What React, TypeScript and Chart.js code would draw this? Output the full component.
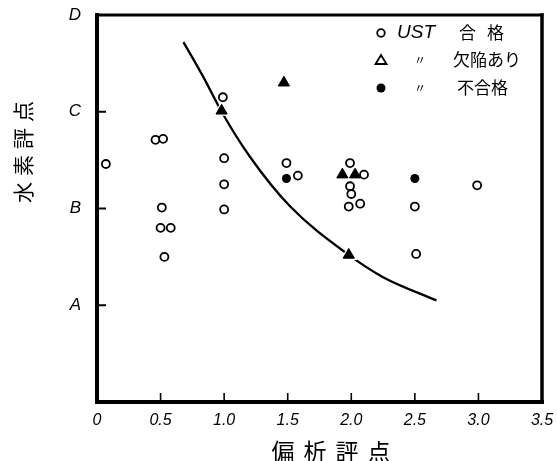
import React, { useEffect, useRef } from 'react';
import { Chart, registerables } from 'chart.js';

Chart.register(...registerables);

// ---- data ----
const xTickLabels = ['0', '0.5', '1.0', '1.5', '2.0', '2.5', '3.0', '3.5'];
const yTickLabels = ['', 'A', 'B', 'C', 'D'];

// UST 合格 (open circles)
const passX = [0.07, 0.46, 0.52, 0.51, 0.5, 0.58, 0.53, 0.99, 1.0, 1.0, 1.0, 1.49, 1.58, 1.99, 2.1, 1.99, 2.0, 1.98, 2.07, 2.5, 2.51, 2.99];
const passY = [2.46, 2.71, 2.72, 2.01, 1.8, 1.8, 1.5, 3.15, 2.52, 2.25, 1.99, 2.47, 2.34, 2.47, 2.35, 2.23, 2.15, 2.02, 2.05, 2.02, 1.53, 2.24];

// 欠陥あり (triangles)
const defectX = [0.98, 1.47, 1.93, 2.03, 1.98];
const defectY = [3.01, 3.3, 2.35, 2.35, 1.52];

// 不合格 (filled circles)
const failX = [1.49, 2.5];
const failY = [2.31, 2.31];

// boundary curve
const curveX = [0.68, 0.84, 0.98, 1.2, 1.52, 1.98, 2.25, 2.67];
const curveY = [3.72, 3.35, 3.0, 2.54, 2.02, 1.52, 1.29, 1.05];

const legendLabels = ['合格', '欠陥あり', '不合格'];
const xTitle = ['偏', '析', '評', '点'];
const yTitle = ['水', '素', '評', '点'];

const toPts = (xs: number[], ys: number[]) => xs.map((x, i) => ({ x, y: ys[i] }));

const decoPlugin = {
  id: 'deco',
  afterDraw(chart: any) {
    const ctx = chart.ctx as CanvasRenderingContext2D;
    const { left, right, top, bottom } = chart.chartArea;
    const xs = chart.scales.x;
    const ys = chart.scales.y;
    ctx.save();
    ctx.strokeStyle = '#000';
    ctx.lineCap = 'square';
    const line = (x1: number, y1: number, x2: number, y2: number, w: number) => {
      ctx.lineWidth = w;
      ctx.beginPath();
      ctx.moveTo(x1, y1);
      ctx.lineTo(x2, y2);
      ctx.stroke();
    };
    line(left, top, left, bottom, 4);
    line(left, bottom, right, bottom, 4);
    line(left, top, right, top, 3);
    line(right, top, right, bottom, 3.5);
    ctx.lineCap = 'butt';
    [1, 2, 3].forEach((v) => {
      const y = ys.getPixelForValue(v);
      line(left, y, left + 9, y, 2);
    });
    [0.5, 1, 1.5, 2, 2.5, 3].forEach((v) => {
      const x = xs.getPixelForValue(v);
      line(x, bottom, x, bottom - 9, 1.6);
    });

    // axis titles
    ctx.fillStyle = '#000';
    ctx.textAlign = 'center';
    ctx.textBaseline = 'middle';
    ctx.font = '23px "Noto Sans CJK JP"';
    const xCenters = [283, 315, 347, 379];
    xTitle.forEach((c, i) => ctx.fillText(c, xCenters[i], 451));
    ctx.save();
    ctx.translate(23, 152);
    ctx.rotate(-Math.PI / 2);
    ctx.font = '21px "Noto Sans CJK JP"';
    yTitle.forEach((c, i) => ctx.fillText(c, (i - 1.5) * 27, 0));
    ctx.restore();

    // legend
    const rows = [33, 60, 88];
    const symX = 381;
    ctx.lineWidth = 1.8;
    ctx.beginPath();
    ctx.arc(symX, rows[0], 3.8, 0, Math.PI * 2);
    ctx.fillStyle = '#fff';
    ctx.fill();
    ctx.stroke();
    ctx.beginPath();
    ctx.moveTo(symX, rows[1] - 5);
    ctx.lineTo(symX + 5.5, rows[1] + 4);
    ctx.lineTo(symX - 5.5, rows[1] + 4);
    ctx.closePath();
    ctx.stroke();
    ctx.beginPath();
    ctx.arc(symX, rows[2], 4.5, 0, Math.PI * 2);
    ctx.fillStyle = '#000';
    ctx.fill();

    ctx.fillStyle = '#000';
    ctx.textAlign = 'left';
    ctx.font = 'italic 19px "Liberation Sans"';
    ctx.fillText('UST', 397, rows[0]);
    ctx.font = '12px "Noto Sans CJK JP"';
    ctx.textAlign = 'center';
    ctx.fillText('〃', 420, rows[1]);
    ctx.fillText('〃', 420, rows[2]);
    ctx.textAlign = 'left';
    ctx.font = '17px "Noto Sans CJK JP"';
    const lx = [459, 453, 457];
    legendLabels.forEach((t, i) => {
      if (i === 0) {
        ctx.fillText(t[0], lx[i], rows[i]);
        ctx.fillText(t[1], lx[i] + 28, rows[i]);
      } else {
        ctx.fillText(t, lx[i], rows[i]);
      }
    });
    ctx.restore();
  },
};

export default function App() {
  const ref = useRef<HTMLCanvasElement | null>(null);
  useEffect(() => {
    if (!ref.current) return;
    const chart = new Chart(ref.current, {
      type: 'scatter',
      data: {
        datasets: [
          {
            label: 'curve',
            data: toPts(curveX, curveY),
            showLine: true,
            borderColor: '#000',
            borderWidth: 2.3,
            pointRadius: 0,
            cubicInterpolationMode: 'monotone',
            order: 5,
          } as any,
          {
            label: 'halo',
            data: toPts(defectX, defectY),
            pointStyle: 'triangle',
            pointRadius: 10,
            backgroundColor: '#fff',
            borderWidth: 0,
            order: 4,
          },
          {
            label: 'UST 合格',
            data: toPts(passX, passY),
            pointStyle: 'circle',
            pointRadius: 4,
            backgroundColor: '#fff',
            borderColor: '#000',
            borderWidth: 1.8,
            order: 1,
          },
          {
            label: '欠陥あり',
            data: toPts(defectX, defectY),
            pointStyle: 'triangle',
            pointRadius: 6.5,
            backgroundColor: '#000',
            borderColor: '#000',
            borderWidth: 1,
            order: 2,
          },
          {
            label: '不合格',
            data: toPts(failX, failY),
            pointStyle: 'circle',
            pointRadius: 4.5,
            backgroundColor: '#000',
            borderColor: '#000',
            borderWidth: 0,
            order: 1,
          },
        ],
      },
      options: {
        responsive: false,
        animation: false,
        devicePixelRatio: 1,
        layout: { padding: { left: 0, top: 15, right: 15, bottom: 0 } },
        plugins: { legend: { display: false }, tooltip: { enabled: false } },
        scales: {
          x: {
            type: 'linear',
            min: 0,
            max: 3.5,
            border: { display: false },
            grid: {
              display: true,
              drawOnChartArea: false,
              drawTicks: true,
              tickLength: 9,
              tickColor: 'rgba(0,0,0,0)',
            },
            afterFit: (s: any) => {
              s.height = 59;
            },
            ticks: {
              stepSize: 0.5,
              padding: 0,
              color: '#000',
              font: { family: '"Liberation Sans"', size: 16, style: 'italic' },
              callback: (v: any) => {
                const i = Math.round(Number(v) / 0.5);
                return xTickLabels[i] ?? '';
              },
            },
          },
          y: {
            type: 'linear',
            min: 0,
            max: 4,
            border: { display: false },
            grid: {
              display: true,
              drawOnChartArea: false,
              drawTicks: true,
              tickLength: 16,
              tickColor: 'rgba(0,0,0,0)',
            },
            afterFit: (s: any) => {
              s.width = 97;
            },
            ticks: {
              stepSize: 1,
              padding: 0,
              color: '#000',
              font: { family: '"Liberation Sans"', size: 17, style: 'italic' },
              callback: (v: any) => yTickLabels[Math.round(Number(v))] ?? '',
            },
          },
        },
      },
      plugins: [decoPlugin],
    });
    return () => chart.destroy();
  }, []);
  return (
    <div style={{ position: 'fixed', left: 0, top: 0, width: 557, height: 461, background: '#fff' }}>
      <canvas ref={ref} width={557} height={461} />
    </div>
  );
}
